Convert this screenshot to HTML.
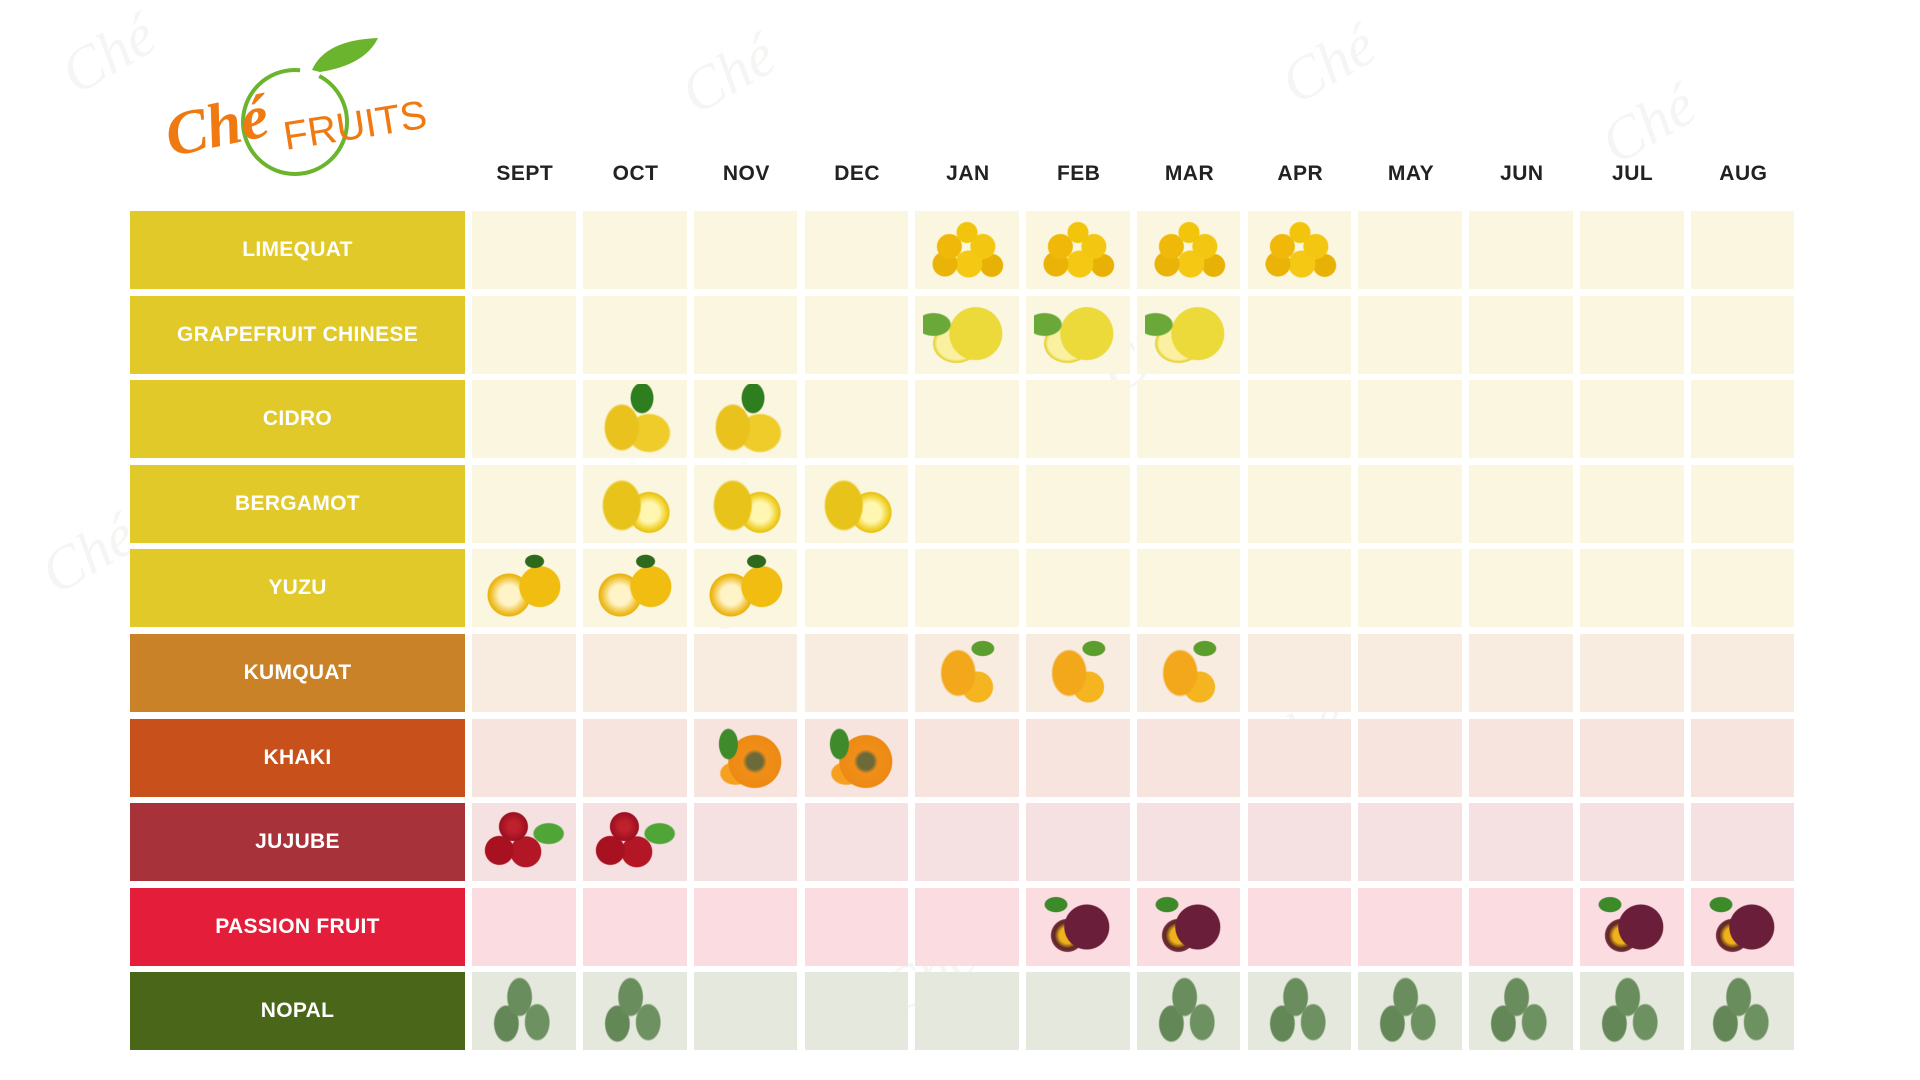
<!DOCTYPE html>
<html><head><meta charset="utf-8"><style>
*{margin:0;padding:0;box-sizing:border-box}
body{width:1920px;height:1080px;background:#fff;position:relative;overflow:hidden;font-family:"Liberation Sans",sans-serif}
.grid{position:absolute;left:130px;top:211px;display:grid;grid-template-columns:335px repeat(12,103.6px);column-gap:7.2px;row-gap:6.6px;grid-auto-rows:78px}
.hdr{position:absolute;top:162px;left:473px;display:grid;grid-template-columns:repeat(12,103.6px);column-gap:7.2px}
.hdr div{text-align:center;font-weight:bold;font-size:21px;color:#222;letter-spacing:0.5px}
.l{color:#fff;font-weight:bold;font-size:21px;display:flex;align-items:center;justify-content:center;letter-spacing:0.3px}
.c{position:relative}
.y .l{background:#e0c928}.y .c{background:#faf6df}
.r{display:contents}
.k .l{background:#c98227}.k .c{background:#f8ebe0}
.h .l{background:#c8501a}.h .c{background:#f7e4df}
.j .l{background:#a8323a}.j .c{background:#f5e0e2}
.p .l{background:#e31d3a}.p .c{background:#fadce1}
.n .l{background:#4a6619}.n .c{background:#e5e8dd}
.f::after{content:"";position:absolute;left:8px;top:4px;width:88px;height:70px}
.lq::after{background:radial-gradient(circle at 50% 25%,#f2c40c 10px,transparent 11px),radial-gradient(circle at 30% 45%,#f0b90a 12px,transparent 13px),radial-gradient(circle at 68% 45%,#f3c612 12px,transparent 13px),radial-gradient(circle at 25% 70%,#eab308 12px,transparent 13px),radial-gradient(circle at 52% 70%,#f5c814 13px,transparent 14px),radial-gradient(circle at 78% 72%,#e8b106 11px,transparent 12px)}
.gf::after{background:radial-gradient(ellipse 18px 12px at 12% 35%,#6aa83a 90%,transparent),radial-gradient(circle at 60% 48%,#ecd93a 26px,transparent 27px),radial-gradient(ellipse 24px 20px at 38% 62%,#faf0a0 80%,#e6d030 95%,transparent)}
.ci::after{background:radial-gradient(ellipse 12px 16px at 58% 20%,#2e7d1e 90%,transparent),radial-gradient(ellipse 18px 24px at 35% 62%,#e9c21e 90%,transparent),radial-gradient(ellipse 22px 20px at 66% 70%,#efcc2a 90%,transparent)}
.be::after{background:radial-gradient(ellipse 20px 26px at 35% 52%,#e8c41a 90%,transparent),radial-gradient(circle at 66% 62%,#fff6b0 10px,#f2d22a 17px,#e6c21a 20px,transparent 21px)}
.yu::after{background:radial-gradient(ellipse 10px 7px at 62% 12%,#2e6a1e 90%,transparent),radial-gradient(circle at 68% 48%,#f1bd10 20px,transparent 21px),radial-gradient(circle at 33% 60%,#fff4c8 10px,#f0c030 18px,#e8b20c 21px,transparent 22px)}
.ku::after{background:radial-gradient(ellipse 12px 8px at 68% 15%,#5c9e2e 90%,transparent),radial-gradient(ellipse 18px 24px at 40% 50%,#f2a81a 90%,transparent),radial-gradient(circle at 62% 70%,#f5b520 15px,transparent 16px)}
.kh::after{background:radial-gradient(ellipse 10px 16px at 30% 30%,#3f8a2a 90%,transparent),radial-gradient(circle at 60% 55%,#6d6a3a 8px,#f08e18 12px,#ee8a14 26px,transparent 27px),radial-gradient(ellipse 16px 12px at 38% 72%,#f7a020 90%,transparent)}
.ju::after{background:radial-gradient(ellipse 16px 11px at 78% 38%,#4fa636 90%,transparent),radial-gradient(circle at 38% 28%,#c0202c 5px,#9a1020 14px,transparent 15px),radial-gradient(circle at 22% 62%,#a8111f 14px,transparent 15px),radial-gradient(circle at 52% 64%,#b31624 15px,transparent 16px)}
.pf::after{background:radial-gradient(ellipse 12px 8px at 25% 18%,#3c8a2a 90%,transparent),radial-gradient(circle at 60% 50%,#6a1e3a 22px,transparent 23px),radial-gradient(circle at 38% 62%,#f0b21a 8px,#5a2a20 13px,#7a2a40 16px,transparent 17px)}
.no::after{background:radial-gradient(ellipse 13px 20px at 45% 30%,#6a8d5e 90%,transparent),radial-gradient(ellipse 13px 19px at 30% 68%,#638757 90%,transparent),radial-gradient(ellipse 13px 19px at 65% 66%,#6e9161 90%,transparent)}
.wm{position:absolute;font-family:"Liberation Serif",serif;font-style:italic;font-size:60px;color:rgba(200,205,190,0.18);transform:rotate(-30deg)}
</style></head><body>
<svg style="position:absolute;left:160px;top:30px" width="290" height="160">
<circle cx="135" cy="92" r="52" fill="none" stroke="#6ab42e" stroke-width="4" stroke-dasharray="250 20 70 10"/>
<path d="M152 40 Q165 10 218 8 Q205 35 160 42 Z" fill="#6ab42e"/>
<text x="8" y="118" font-family="Liberation Serif,serif" font-style="italic" font-weight="bold" font-size="62" fill="#ef7a12" transform="rotate(-12 50 110)">Ché</text>
<text x="122" y="108" font-family="Liberation Sans,sans-serif" font-size="40" fill="#ef7a12" transform="rotate(-9 200 90)">FRUITS</text>
</svg>
<div class="wm" style="left:60px;top:20px">Ché</div><div class="wm" style="left:680px;top:40px">Ché</div><div class="wm" style="left:1280px;top:30px">Ché</div><div class="wm" style="left:1600px;top:90px">Ché</div><div class="wm" style="left:1100px;top:320px">Ché</div><div class="wm" style="left:700px;top:560px">Ché</div><div class="wm" style="left:1250px;top:700px">Ché</div><div class="wm" style="left:880px;top:940px">Ché</div><div class="wm" style="left:40px;top:520px">Ché</div>
<div class="hdr"><div>SEPT</div><div>OCT</div><div>NOV</div><div>DEC</div><div>JAN</div><div>FEB</div><div>MAR</div><div>APR</div><div>MAY</div><div>JUN</div><div>JUL</div><div>AUG</div></div>
<div class="grid">
<div class="r y"><div class="l">LIMEQUAT</div><div class="c"></div><div class="c"></div><div class="c"></div><div class="c"></div><div class="c f lq"></div><div class="c f lq"></div><div class="c f lq"></div><div class="c f lq"></div><div class="c"></div><div class="c"></div><div class="c"></div><div class="c"></div></div>
<div class="r y"><div class="l">GRAPEFRUIT CHINESE</div><div class="c"></div><div class="c"></div><div class="c"></div><div class="c"></div><div class="c f gf"></div><div class="c f gf"></div><div class="c f gf"></div><div class="c"></div><div class="c"></div><div class="c"></div><div class="c"></div><div class="c"></div></div>
<div class="r y"><div class="l">CIDRO</div><div class="c"></div><div class="c f ci"></div><div class="c f ci"></div><div class="c"></div><div class="c"></div><div class="c"></div><div class="c"></div><div class="c"></div><div class="c"></div><div class="c"></div><div class="c"></div><div class="c"></div></div>
<div class="r y"><div class="l">BERGAMOT</div><div class="c"></div><div class="c f be"></div><div class="c f be"></div><div class="c f be"></div><div class="c"></div><div class="c"></div><div class="c"></div><div class="c"></div><div class="c"></div><div class="c"></div><div class="c"></div><div class="c"></div></div>
<div class="r y"><div class="l">YUZU</div><div class="c f yu"></div><div class="c f yu"></div><div class="c f yu"></div><div class="c"></div><div class="c"></div><div class="c"></div><div class="c"></div><div class="c"></div><div class="c"></div><div class="c"></div><div class="c"></div><div class="c"></div></div>
<div class="r k"><div class="l">KUMQUAT</div><div class="c"></div><div class="c"></div><div class="c"></div><div class="c"></div><div class="c f ku"></div><div class="c f ku"></div><div class="c f ku"></div><div class="c"></div><div class="c"></div><div class="c"></div><div class="c"></div><div class="c"></div></div>
<div class="r h"><div class="l">KHAKI</div><div class="c"></div><div class="c"></div><div class="c f kh"></div><div class="c f kh"></div><div class="c"></div><div class="c"></div><div class="c"></div><div class="c"></div><div class="c"></div><div class="c"></div><div class="c"></div><div class="c"></div></div>
<div class="r j"><div class="l">JUJUBE</div><div class="c f ju"></div><div class="c f ju"></div><div class="c"></div><div class="c"></div><div class="c"></div><div class="c"></div><div class="c"></div><div class="c"></div><div class="c"></div><div class="c"></div><div class="c"></div><div class="c"></div></div>
<div class="r p"><div class="l">PASSION FRUIT</div><div class="c"></div><div class="c"></div><div class="c"></div><div class="c"></div><div class="c"></div><div class="c f pf"></div><div class="c f pf"></div><div class="c"></div><div class="c"></div><div class="c"></div><div class="c f pf"></div><div class="c f pf"></div></div>
<div class="r n"><div class="l">NOPAL</div><div class="c f no"></div><div class="c f no"></div><div class="c"></div><div class="c"></div><div class="c"></div><div class="c"></div><div class="c f no"></div><div class="c f no"></div><div class="c f no"></div><div class="c f no"></div><div class="c f no"></div><div class="c f no"></div></div>
</div>
</body></html>
